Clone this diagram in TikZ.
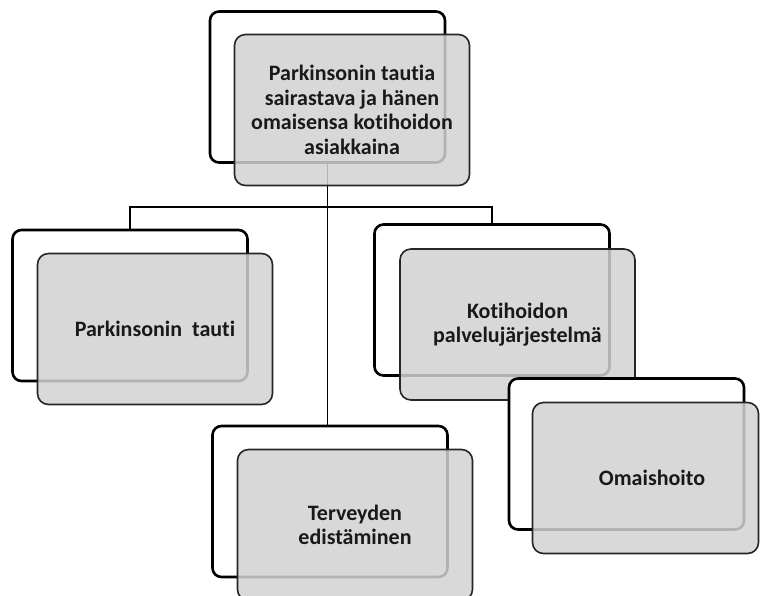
\documentclass[tikz,border=0pt]{standalone}
\usepackage{fontspec}
\setmainfont{Carlito}[Ligatures={NoCommon}]
\pgfdeclarelayer{background}
\pgfsetlayers{background,main}
\begin{document}
\begin{tikzpicture}[x=1pt,y=-1pt,
  backbox/.style={draw=black, line width=2.6pt, rounded corners=9pt, fill=white,
    minimum width=235pt, minimum height=151pt, inner sep=0pt},
  frontbox/.style={draw=black!85, line width=1.6pt, rounded corners=11pt,
    fill=gray!35, fill opacity=0.85, text opacity=1, text=black!90,
    minimum width=235pt, minimum height=151pt, inner sep=0pt, align=center,
    font=\bfseries\fontsize{22}{24.5}\selectfont},
  conn/.style={draw=black, line width=1.4pt}]
\useasboundingbox (0,0) rectangle (760,595);

% top
\node[backbox] (tb) at (327.5,87) {};
\node[frontbox] (tf) at (352,110) {Parkinsonin tautia\\sairastava ja hänen\\omaisensa kotihoidon\\asiakkaina};
% left
\node[backbox] (lb) at (130,305.5) {};
\node[frontbox] (lf) at (155,329) {Parkinsonin\ \ tauti};
% right
\node[backbox] (rb) at (492,300) {};
\node[frontbox] (rf) at (517.5,324.5) {Kotihoidon\\palvelujärjestelmä};
% omaishoito
\node[backbox] (ob) at (626.5,454) {};
\node[frontbox, minimum width=226pt] (of) at (645.5,478) {\hspace*{13pt}Omaishoito};
% bottom
\node[backbox] (bb) at (330,501.5) {};
\node[frontbox] (bf) at (355,525) {Terveyden\\edistäminen};

\begin{pgfonlayer}{background}
  \coordinate (j) at ([yshift=-43pt]tb.south);
  \draw[conn] (tb.south) -- (tb.south |- bb.north);
  \draw[conn] (lb.north) |- (j) -| (rb.north);
\end{pgfonlayer}
\end{tikzpicture}
\end{document}
